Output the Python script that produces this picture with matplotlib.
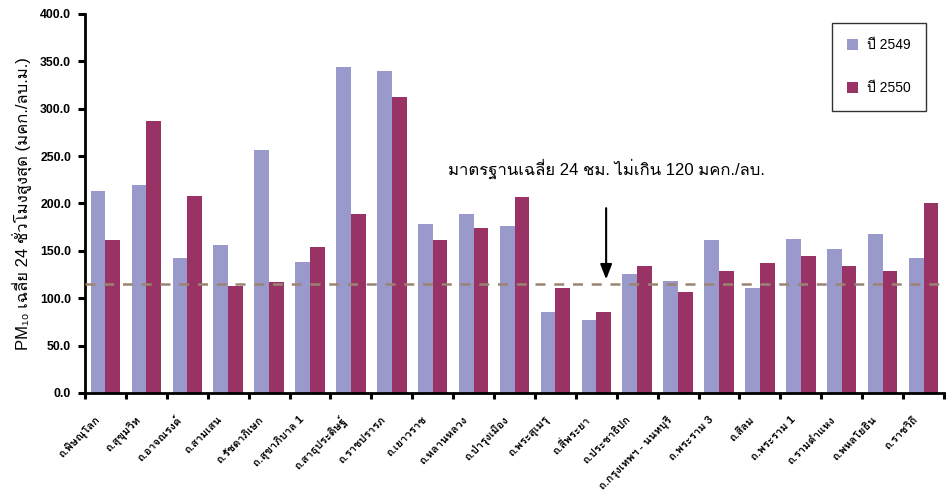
import matplotlib
matplotlib.use("Agg")
import matplotlib.pyplot as plt
import numpy as np
from matplotlib import font_manager, ft2font
from matplotlib.transforms import ScaledTranslation

# ---------------- data ----------------
categories = [
    "ถ.พิษณุโลก", "ถ.สุขุมวิท", "ถ.อาจณรงค์", "ถ.สามเสน", "ถ.รัชดาภิเษก",
    "ถ.สุขาภิบาล 1", "ถ.สาธุประดิษฐ์", "ถ.ราชปรารภ", "ถ.เยาวราช", "ถ.หลานหลวง",
    "ถ.บำรุงเมือง", "ถ.พระสุเมรุ", "ถ.สี่พระยา", "ถ.ประชาธิปก", "ถ.กรุงเทพฯ - นนทบุรี",
    "ถ.พระราม 3", "ถ.สีลม", "ถ.พระราม 1", "ถ.รามคำแหง", "ถ.พหลโยธิน", "ถ.ราชวิถี",
]
values_2549 = [213, 219, 142, 156, 256, 138, 344, 340, 178, 189,
               176, 85, 77, 126, 118, 161, 111, 163, 152, 168, 142]
values_2550 = [162, 287, 208, 113, 117, 154, 189, 312, 161, 174,
               207, 111, 85, 134, 107, 129, 137, 145, 134, 129, 200]
series_labels = ["ปี 2549", "ปี 2550"]
standard_line = 115
yticks = [0, 50, 100, 150, 200, 250, 300, 350, 400]
annotation_text = "มาตรฐานเฉลี่ย 24 ชม. ไม่เกิน 120 มคก./ลบ."
ylabel_text = "PM\u2081\u2080 เฉลี่ย 24 ชั่วโมงสูงสุด (มคก./ลบ.ม.)"

# ---------------- fonts ----------------
thai_fonts = []
for f in font_manager.fontManager.ttflist:
    try:
        cm = ft2font.FT2Font(f.fname).get_charmap()
    except Exception:
        continue
    if 0x0E01 in cm and 0x0E35 in cm and f.name not in thai_fonts:
        thai_fonts.append(f.name)
if "Loma" in thai_fonts:
    thai_fonts.remove("Loma")
    thai_fonts.insert(0, "Loma")

families = ["Liberation Sans"] + thai_fonts + ["DejaVu Sans"]
plt.rcParams["font.family"] = families

c2549 = "#9999CC"
c2550 = "#993366"

fig = plt.figure(figsize=(9.52, 4.91), dpi=100)
ax = fig.add_axes([0.0893, 0.1996, 0.9023, 0.7719])

x = np.arange(len(categories))
w = 0.36
ax.bar(x - w / 2, values_2549, w, color=c2549, label=series_labels[0], zorder=2)
ax.bar(x + w / 2, values_2550, w, color=c2550, label=series_labels[1], zorder=2)

ax.axhline(standard_line, color="#9B8472", lw=1.8, dashes=(4.0, 3.5), zorder=3)

ax.set_xlim(-0.5, len(categories) - 0.5)
ax.set_ylim(0, 400)

for s in ["top", "right"]:
    ax.spines[s].set_visible(False)
for s in ["left", "bottom"]:
    ax.spines[s].set_linewidth(2)
    ax.spines[s].set_color("black")
ax.spines["bottom"].set_zorder(4)

ax.set_yticks(yticks)
ax.set_yticklabels([f"{v:.1f}" for v in yticks], fontweight="bold", fontsize=8.8)
ax.tick_params(axis="y", direction="out", length=5, width=2.2, pad=5)

ax.set_xticks(np.arange(len(categories) + 1) - 0.5)
ax.set_xticklabels([])
ax.tick_params(axis="x", which="major", direction="out", length=4, width=2.2)
ax.set_xticks(x, minor=True)
ax.set_xticklabels(categories, minor=True, rotation=45, ha="right",
                   rotation_mode="anchor", fontsize=8, fontweight="bold")
ax.tick_params(axis="x", which="minor", length=0, pad=12)
shift = ScaledTranslation(-0.11, -0.05, fig.dpi_scale_trans)
for lab in ax.get_xticklabels(minor=True):
    lab.set_transform(lab.get_transform() + shift)

ax.set_ylabel(ylabel_text, fontsize=12, labelpad=6)

ax.text(8.38, 230, annotation_text, fontsize=12, ha="left", va="baseline", zorder=5)
ax.annotate("", xy=(12.24, standard_line + 2), xytext=(12.24, 198),
            arrowprops=dict(arrowstyle="-|>,head_width=0.35,head_length=0.9",
                            color="black", lw=1.5), zorder=5)

leg = ax.legend(loc="upper left", bbox_to_anchor=(832 / 952, 1 - 23 / 491),
                bbox_transform=fig.transFigure, frameon=True, fancybox=False,
                edgecolor="black", fontsize=10, handlelength=0.8, handleheight=0.8,
                labelspacing=2.1, borderpad=1.1, handletextpad=0.6,
                borderaxespad=0)
leg.get_frame().set_linewidth(1)

fig.savefig("out.png", dpi=100)
